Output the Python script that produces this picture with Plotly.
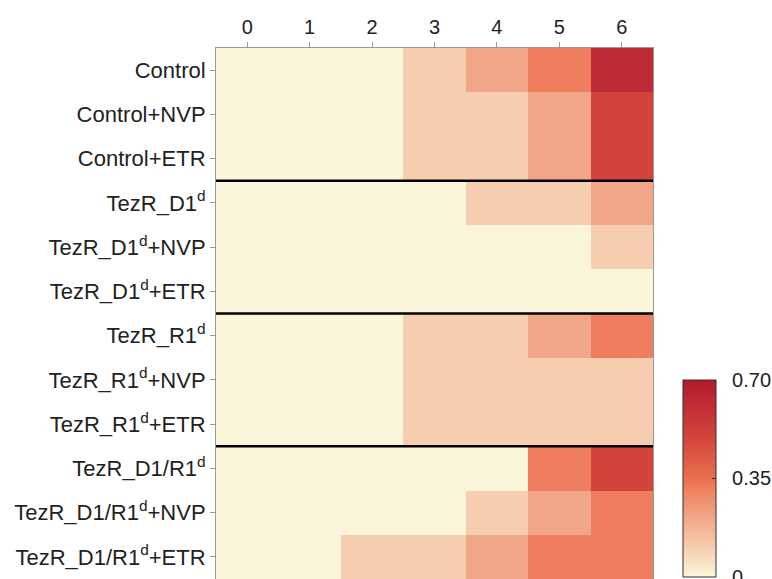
import plotly.graph_objects as go

columns = [0, 1, 2, 3, 4, 5, 6]
rows = [
    "Control", "Control+NVP", "Control+ETR",
    "TezR_D1<sup>d</sup>", "TezR_D1<sup>d</sup>+NVP", "TezR_D1<sup>d</sup>+ETR",
    "TezR_R1<sup>d</sup>", "TezR_R1<sup>d</sup>+NVP", "TezR_R1<sup>d</sup>+ETR",
    "TezR_D1/R1<sup>d</sup>", "TezR_D1/R1<sup>d</sup>+NVP", "TezR_D1/R1<sup>d</sup>+ETR",
]
values = [
    [0, 0, 0, 0.105, 0.21, 0.315, 0.62],
    [0, 0, 0, 0.105, 0.105, 0.21, 0.5],
    [0, 0, 0, 0.105, 0.105, 0.21, 0.5],
    [0, 0, 0, 0, 0.105, 0.105, 0.21],
    [0, 0, 0, 0, 0, 0, 0.105],
    [0, 0, 0, 0, 0, 0, 0],
    [0, 0, 0, 0.105, 0.105, 0.21, 0.315],
    [0, 0, 0, 0.105, 0.105, 0.105, 0.105],
    [0, 0, 0, 0.105, 0.105, 0.105, 0.105],
    [0, 0, 0, 0, 0, 0.315, 0.5],
    [0, 0, 0, 0, 0.105, 0.21, 0.315],
    [0, 0, 0.105, 0.105, 0.21, 0.315, 0.315],
]
group_breaks = [2.5, 5.5, 8.5]
cbar_ticks = [0, 0.35, 0.70]
cbar_labels = ["0", "0.35", "0.70"]

colorscale = [
    [0.0, "#FBF6DA"],
    [0.15, "#F6CDAF"],
    [0.3, "#F1A787"],
    [0.45, "#EE7E5D"],
    [0.5, "#E8704E"],
    [0.714, "#D2433B"],
    [0.886, "#BE2B35"],
    [1.0, "#B2182B"],
]

row_idx = list(range(len(rows)))
FONT = "Liberation Sans, Arial"
NBSP = "\u00a0\u00a0"

fig = go.Figure(go.Heatmap(
    z=values, x=columns, y=row_idx,
    zmin=0, zmax=0.70, colorscale=colorscale,
    xgap=0, ygap=0,
    colorbar=dict(
        x=1.0686, xanchor="left", y=0.0038, yanchor="bottom",
        xpad=0, ypad=0,
        lenmode="pixels", len=197, thickness=33,
        outlinewidth=1, outlinecolor="#333333",
        tickvals=cbar_ticks, ticktext=[NBSP + t for t in cbar_labels],
        ticks="inside", ticklen=4, tickcolor="#333333",
        ticklabeloverflow="allow",
        tickfont=dict(family=FONT, size=20, color="#222222"),
    ),
))

for b in group_breaks:
    fig.add_shape(type="line", xref="paper", x0=0, x1=1, yref="y", y0=b, y1=b,
                  line=dict(color="black", width=2.5))

fig.update_xaxes(
    side="top", tickvals=columns, ticktext=[str(c) for c in columns],
    ticks="outside", ticklen=5, tickcolor="#999999",
    showline=True, linecolor="#999999", linewidth=1, mirror=True,
    tickfont=dict(family=FONT, size=20, color="#222222"),
    range=[-0.5, 6.5], showgrid=False, zeroline=False,
)
fig.update_yaxes(
    tickvals=row_idx, ticktext=rows, autorange=False, range=[11.5, -0.5],
    ticks="outside", ticklen=5, tickcolor="#999999",
    showline=True, linecolor="#999999", linewidth=1, mirror=True,
    tickfont=dict(family=FONT, size=22, color="#222222"),
    showgrid=False, zeroline=False,
)
fig.update_layout(
    width=772, height=579,
    margin=dict(l=216, r=119, t=48, b=0, autoexpand=False),
    paper_bgcolor="white", plot_bgcolor="white",
)
fig.write_html("out.html")
